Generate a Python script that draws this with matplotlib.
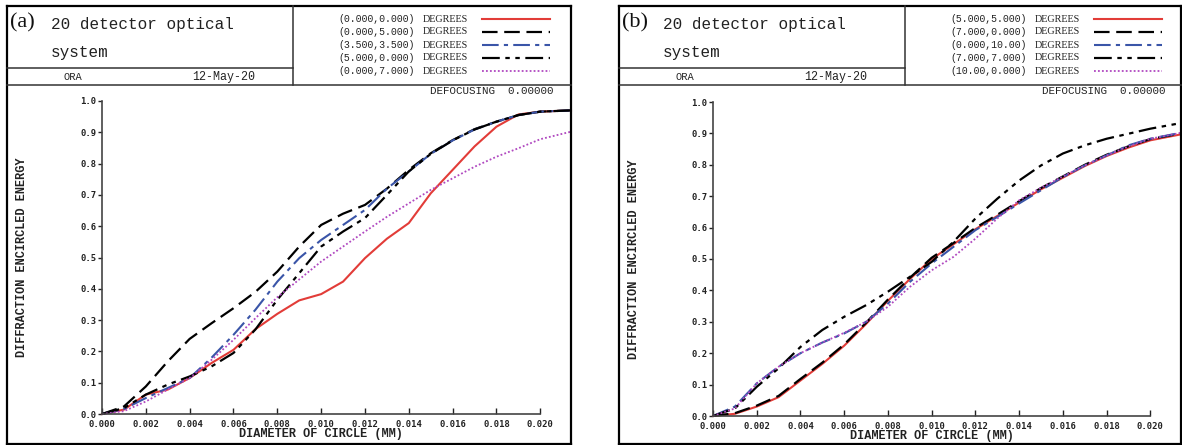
import matplotlib
matplotlib.use("Agg")
import matplotlib.pyplot as plt
from matplotlib.lines import Line2D

W, H = 1182, 445

# diameter of circle (mm) sample points
diam = [0.000, 0.001, 0.002, 0.003, 0.004, 0.005, 0.006, 0.007, 0.008, 0.009, 0.010,
        0.011, 0.012, 0.013, 0.014, 0.015, 0.016, 0.017, 0.018, 0.019, 0.020, 0.0214]

# (a) field angles and encircled energy
fields_a = ["(0.000,0.000)", "(0.000,5.000)", "(3.500,3.500)", "(5.000,0.000)", "(0.000,7.000)"]
ee_a_00_00 = [0.0, 0.014, 0.062, 0.078, 0.115, 0.163, 0.205, 0.271, 0.320, 0.363, 0.383,
              0.423, 0.498, 0.560, 0.610, 0.705, 0.780, 0.855, 0.918, 0.957, 0.966, 0.970]
ee_a_00_50 = [0.0, 0.024, 0.088, 0.168, 0.240, 0.290, 0.338, 0.390, 0.455, 0.535, 0.604,
              0.640, 0.668, 0.720, 0.780, 0.833, 0.875, 0.910, 0.934, 0.955, 0.966, 0.970]
ee_a_35_35 = [0.0, 0.016, 0.051, 0.083, 0.115, 0.180, 0.253, 0.333, 0.423, 0.498, 0.556,
              0.604, 0.652, 0.720, 0.775, 0.831, 0.874, 0.909, 0.934, 0.955, 0.966, 0.970]
ee_a_50_00 = [0.0, 0.019, 0.062, 0.094, 0.120, 0.152, 0.195, 0.270, 0.365, 0.450, 0.535,
              0.583, 0.626, 0.700, 0.775, 0.831, 0.874, 0.909, 0.934, 0.955, 0.966, 0.970]
ee_a_00_70 = [0.0, 0.009, 0.040, 0.078, 0.115, 0.173, 0.237, 0.306, 0.373, 0.430, 0.487,
              0.535, 0.583, 0.630, 0.673, 0.716, 0.753, 0.790, 0.822, 0.849, 0.878, 0.902]

# (b) field angles and encircled energy
fields_b = ["(5.000,5.000)", "(7.000,0.000)", "(0.000,10.00)", "(7.000,7.000)", "(10.00,0.000)"]
ee_b_50_50 = [0.0, 0.007, 0.030, 0.060, 0.113, 0.166, 0.224, 0.293, 0.367, 0.436, 0.500,
              0.547, 0.595, 0.637, 0.680, 0.722, 0.759, 0.796, 0.828, 0.855, 0.878, 0.897]
ee_b_70_00 = [0.0, 0.009, 0.033, 0.064, 0.118, 0.170, 0.228, 0.297, 0.371, 0.440, 0.504,
              0.551, 0.599, 0.641, 0.684, 0.726, 0.763, 0.800, 0.832, 0.859, 0.882, 0.900]
ee_b_00_100 = [0.0, 0.030, 0.104, 0.157, 0.200, 0.234, 0.263, 0.300, 0.358, 0.427, 0.486,
               0.539, 0.592, 0.634, 0.677, 0.719, 0.761, 0.798, 0.830, 0.862, 0.883, 0.902]
ee_b_70_70 = [0.0, 0.024, 0.093, 0.152, 0.220, 0.274, 0.316, 0.353, 0.396, 0.443, 0.491,
              0.555, 0.629, 0.692, 0.750, 0.798, 0.836, 0.862, 0.883, 0.899, 0.915, 0.933]
ee_b_100_00 = [0.0, 0.024, 0.104, 0.157, 0.200, 0.234, 0.265, 0.300, 0.348, 0.411, 0.464,
               0.507, 0.565, 0.629, 0.687, 0.727, 0.763, 0.798, 0.830, 0.859, 0.883, 0.902]

xticks = [0.000, 0.002, 0.004, 0.006, 0.008, 0.010, 0.012, 0.014, 0.016, 0.018, 0.020]
yticks = [0.0, 0.1, 0.2, 0.3, 0.4, 0.5, 0.6, 0.7, 0.8, 0.9, 1.0]

# line styles for the five fields, in legend order
styles = [
    dict(color="#e23c38", ls="-", lw=1.5),
    dict(color="black", ls=(0, (7, 3)), lw=1.6),
    dict(color="#3a55a8", ls=(0, (8, 2.5, 2, 2.5)), lw=1.5),
    dict(color="black", ls=(0, (8, 2.5, 2, 2.5, 2, 2.5)), lw=1.6),
    dict(color="#b048c0", ls=(0, (1, 1.2)), lw=1.3),
]

MONO = "Liberation Mono"
SERIF = "Liberation Serif"
TICKFONT = "DejaVu Sans Mono"

fig = plt.figure(figsize=(W / 100, H / 100), dpi=100)


def fx(x):
    return x / W


def fy(y):
    return 1 - y / H


def hline(x0, x1, y, lw=1.0, color="#333333"):
    fig.add_artist(Line2D([fx(x0), fx(x1)], [fy(y), fy(y)], lw=lw, color=color))


def vline(x, y0, y1, lw=1.0, color="#333333"):
    fig.add_artist(Line2D([fx(x), fx(x)], [fy(y0), fy(y1)], lw=lw, color=color))


def panel(x0, x1, letter, fields, curves, ax_left, ax_top, ax_bottom):
    # frame and header grid
    top, bottom = 6, 444
    hline(x0, x1, top, lw=1.6, color="black")
    hline(x0, x1, bottom, lw=1.6, color="black")
    vline(x0, top, bottom, lw=1.6, color="black")
    vline(x1, top, bottom, lw=1.6, color="black")
    hline(x0, x1, 85, lw=1.1)
    vline(x0 + 286, top, 85, lw=1.1)
    hline(x0, x0 + 286, 68, lw=1.1)

    fig.text(fx(x0 + 3), fy(23), letter, family=SERIF, fontsize=16,
             va="center", ha="left", color="#111111")
    fig.text(fx(x0 + 44), fy(25), "20 detector optical", family=MONO, fontsize=11.5,
             va="center", ha="left", color="#222222")
    fig.text(fx(x0 + 44), fy(52), "system", family=MONO, fontsize=11.5,
             va="center", ha="left", color="#222222")
    fig.text(fx(x0 + 57), fy(77), "ORA", family=MONO, fontsize=7.5,
             va="center", ha="left", color="#222222")
    fig.text(fx(x0 + 185), fy(77), "12-May-20", family=MONO, fontsize=8.4,
             va="center", ha="left", color="#222222")

    # legend rows in the header
    for i, (name, st) in enumerate(zip(fields, styles)):
        yy = 19 + 13 * i
        fig.text(fx(x0 + 331), fy(yy), name, family=MONO, fontsize=7.1,
                 va="center", ha="left", color="#222222")
        fig.text(fx(x0 + 416), fy(yy), "DEGREES", family=SERIF, fontsize=7.3,
                 va="center", ha="left", color="#222222")
        fig.add_artist(Line2D([fx(x0 + 475), fx(x0 + 543)], [fy(yy), fy(yy)],
                              color=st["color"], ls=st["ls"], lw=st["lw"]))
    fig.text(fx(x0 + 546), fy(91), "DEFOCUSING  0.00000", family=MONO, fontsize=7.8,
             va="center", ha="right", color="#222222")

    ax = fig.add_axes([fx(ax_left), fy(ax_bottom), fx(x1) - fx(ax_left),
                       fy(ax_top) - fy(ax_bottom)])
    for ys, st in zip(curves, styles):
        ax.plot(diam, ys, color=st["color"], ls=st["ls"], lw=st["lw"], clip_on=False)
    ax.set_xlim(0, 0.0214)
    ax.set_ylim(0, 1.0)
    ax.patch.set_alpha(0)
    for s in ("top", "right"):
        ax.spines[s].set_visible(False)
    ax.spines["left"].set_bounds(0, 1.0)
    ax.spines["bottom"].set_bounds(0, 0.020)
    for s in ("left", "bottom"):
        ax.spines[s].set_color("#444444")
        ax.spines[s].set_linewidth(1.2)
    ax.set_xticks(xticks)
    ax.set_xticklabels([f"{v:.3f}" for v in xticks])
    ax.set_yticks(yticks)
    ax.set_yticklabels([f"{v:.1f}" for v in yticks])
    ax.tick_params(axis="x", direction="in", length=4, width=1, pad=4, colors="#222222")
    ax.tick_params(axis="y", direction="out", length=3, width=1, pad=1, colors="#222222")
    for lab in ax.get_xticklabels() + ax.get_yticklabels():
        lab.set_family(TICKFONT)
        lab.set_fontweight("bold")
        lab.set_fontsize(6.4)
    ax.set_xlabel("DIAMETER OF CIRCLE (MM)", family=MONO, fontweight="bold", fontsize=8.6,
                  color="#222222")
    ax.xaxis.set_label_coords(0.010 / 0.0214, -0.045)
    ax.set_ylabel("DIFFRACTION ENCIRCLED ENERGY", family=MONO, fontweight="bold",
                  fontsize=8.6, color="#222222")
    ax.yaxis.set_label_coords((x0 + 21 - ax_left) / (x1 - ax_left), 0.5)
    return ax


panel(7, 571, "(a)", fields_a,
      [ee_a_00_00, ee_a_00_50, ee_a_35_35, ee_a_50_00, ee_a_00_70], 102, 101, 414)
panel(619, 1181, "(b)", fields_b,
      [ee_b_50_50, ee_b_70_00, ee_b_00_100, ee_b_70_70, ee_b_100_00], 713, 102, 416)

fig.savefig("out.png", dpi=100)
plt.close(fig)
